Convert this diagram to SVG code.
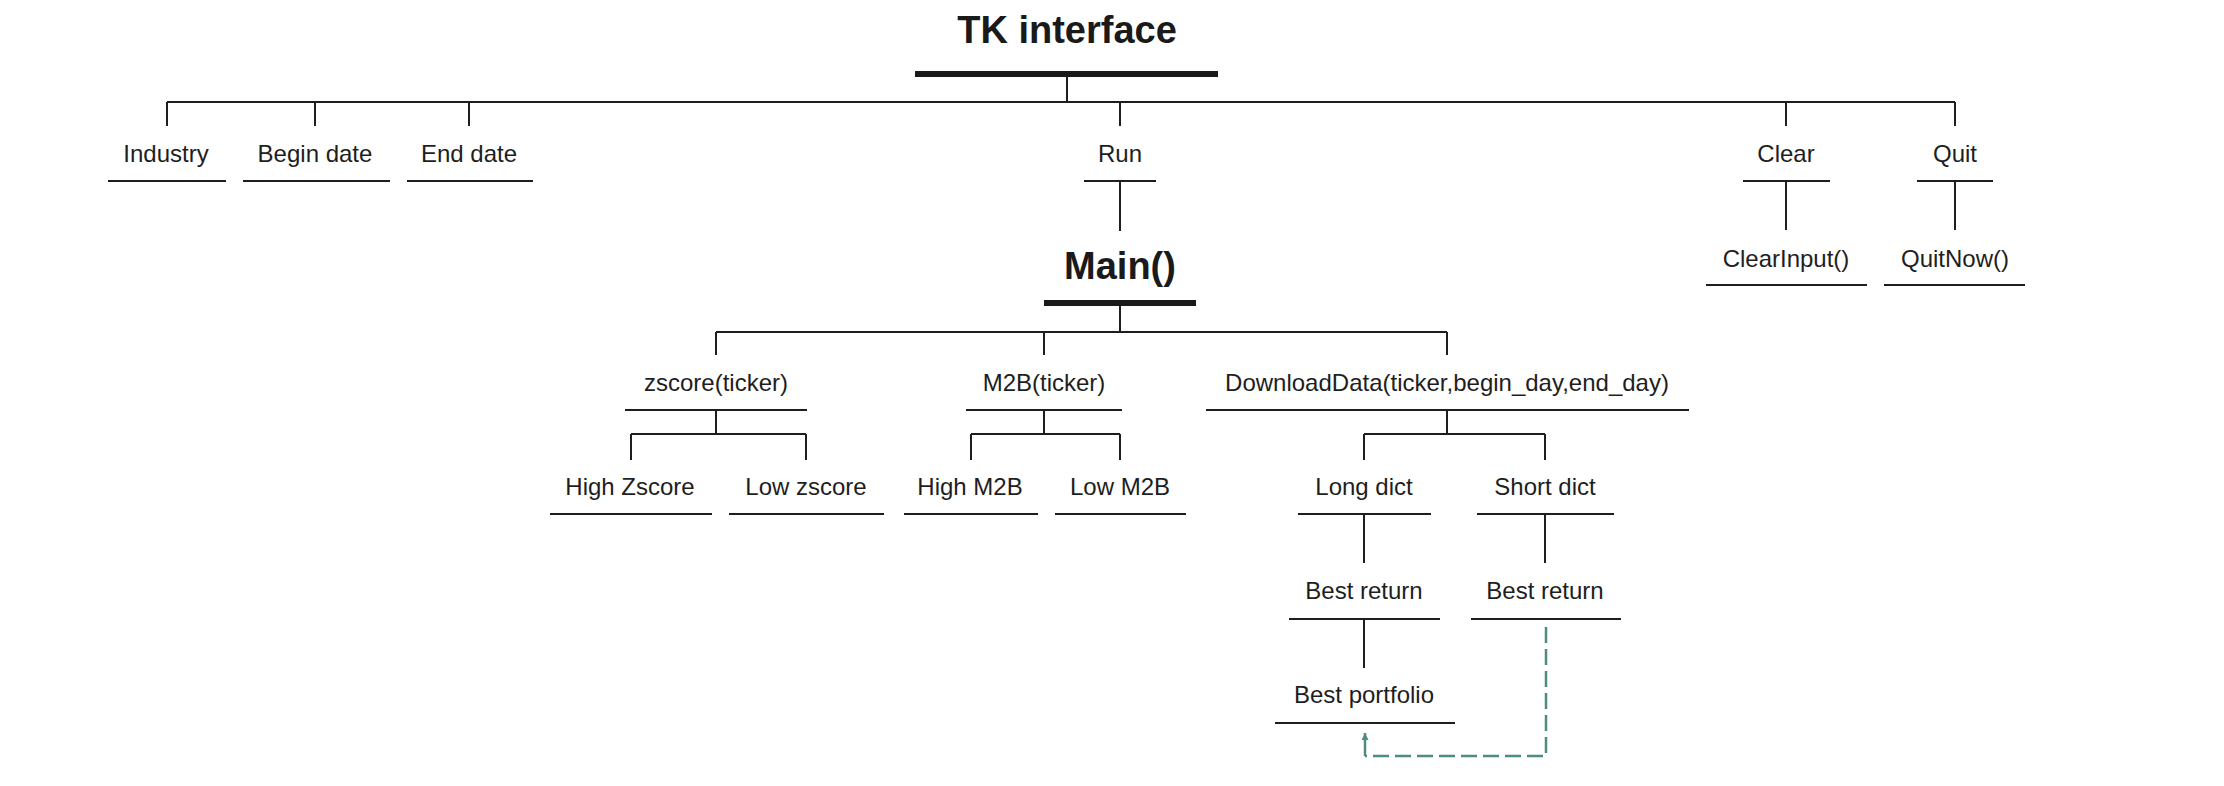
<svg xmlns="http://www.w3.org/2000/svg" width="2224" height="786" viewBox="0 0 2224 786">
<defs>
<style>
.t{font-family:"Liberation Sans",Arial,sans-serif;font-size:24px;fill:#1e1e1e;text-anchor:middle}
.h{font-family:"Liberation Sans",Arial,sans-serif;font-size:38px;font-weight:bold;fill:#1a1a1a;text-anchor:middle}
.u{stroke:#1e1e1e;stroke-width:2;fill:none}
.thick{stroke:#1a1a1a;stroke-width:6;fill:none}
.c{stroke:#1e1e1e;stroke-width:2;fill:none}
.d{stroke:#4d8c82;stroke-width:2.5;fill:none;stroke-dasharray:16 6}
.a{stroke:#4d8c82;stroke-width:2.5;fill:none}
</style>
<marker id="arr" viewBox="0 0 10 10" refX="10" refY="5" markerWidth="9" markerHeight="7" markerUnits="userSpaceOnUse" orient="auto">
<path d="M0 0 L10 5 L0 10 Z" fill="#4d8c82"/>
</marker>
</defs>
<rect width="2224" height="786" fill="#ffffff"/>

<g id="connectors">
<path class="c" d="M1067 77 V102 M167 102 H1955 M167 102 V126 M315 102 V126 M469 102 V126 M1120 102 V126 M1786 102 V126 M1955 102 V126"/>
<path class="c" d="M1120 181 V231"/>
<path class="c" d="M1786 181 V230 M1955 181 V230"/>
<path class="c" d="M1120 306 V332 M716 332 H1447 M716 332 V355 M1044 332 V355 M1447 332 V355"/>
<path class="c" d="M716 410 V434 M631 434 H806 M631 434 V460 M806 434 V460"/>
<path class="c" d="M1044 410 V434 M971 434 H1120 M971 434 V460 M1120 434 V460"/>
<path class="c" d="M1447 410 V434 M1364 434 H1545 M1364 434 V460 M1545 434 V460"/>
<path class="c" d="M1364 514 V563 M1545 514 V563"/>
<path class="c" d="M1364 619 V668"/>
<path class="d" d="M1546 627 V756 H1365"/>
<path class="a" d="M1365 756 V733" marker-end="url(#arr)"/>
</g>

<g id="tk-interface">
<text class="h" x="1067" y="43">TK interface</text>
<line class="thick" x1="915" y1="74" x2="1218" y2="74"/>
</g>
<g id="industry">
<text class="t" x="166" y="162">Industry</text>
<line class="u" x1="108" y1="181" x2="226" y2="181"/>
</g>
<g id="begin-date">
<text class="t" x="315" y="162">Begin date</text>
<line class="u" x1="243" y1="181" x2="390" y2="181"/>
</g>
<g id="end-date">
<text class="t" x="469" y="162">End date</text>
<line class="u" x1="407" y1="181" x2="533" y2="181"/>
</g>
<g id="run">
<text class="t" x="1120" y="162">Run</text>
<line class="u" x1="1084" y1="181" x2="1156" y2="181"/>
</g>
<g id="clear">
<text class="t" x="1786" y="162">Clear</text>
<line class="u" x1="1743" y1="181" x2="1830" y2="181"/>
</g>
<g id="quit">
<text class="t" x="1955" y="162">Quit</text>
<line class="u" x1="1917" y1="181" x2="1993" y2="181"/>
</g>
<g id="clearinput">
<text class="t" x="1786" y="267">ClearInput()</text>
<line class="u" x1="1706" y1="285" x2="1867" y2="285"/>
</g>
<g id="quitnow">
<text class="t" x="1955" y="267">QuitNow()</text>
<line class="u" x1="1884" y1="285" x2="2025" y2="285"/>
</g>
<g id="main">
<text class="h" x="1120" y="279">Main()</text>
<line class="thick" x1="1044" y1="303" x2="1196" y2="303"/>
</g>
<g id="zscore">
<text class="t" x="716" y="391">zscore(ticker)</text>
<line class="u" x1="625" y1="410" x2="807" y2="410"/>
</g>
<g id="m2b">
<text class="t" x="1044" y="391">M2B(ticker)</text>
<line class="u" x1="966" y1="410" x2="1122" y2="410"/>
</g>
<g id="downloaddata">
<text class="t" x="1447" y="391">DownloadData(ticker,begin_day,end_day)</text>
<line class="u" x1="1206" y1="410" x2="1689" y2="410"/>
</g>
<g id="high-zscore">
<text class="t" x="630" y="495">High Zscore</text>
<line class="u" x1="550" y1="514" x2="712" y2="514"/>
</g>
<g id="low-zscore">
<text class="t" x="806" y="495">Low zscore</text>
<line class="u" x1="729" y1="514" x2="884" y2="514"/>
</g>
<g id="high-m2b">
<text class="t" x="970" y="495">High M2B</text>
<line class="u" x1="904" y1="514" x2="1038" y2="514"/>
</g>
<g id="low-m2b">
<text class="t" x="1120" y="495">Low M2B</text>
<line class="u" x1="1055" y1="514" x2="1186" y2="514"/>
</g>
<g id="long-dict">
<text class="t" x="1364" y="495">Long dict</text>
<line class="u" x1="1298" y1="514" x2="1431" y2="514"/>
</g>
<g id="short-dict">
<text class="t" x="1545" y="495">Short dict</text>
<line class="u" x1="1477" y1="514" x2="1614" y2="514"/>
</g>
<g id="best-return-long">
<text class="t" x="1364" y="599">Best return</text>
<line class="u" x1="1289" y1="619" x2="1440" y2="619"/>
</g>
<g id="best-return-short">
<text class="t" x="1545" y="599">Best return</text>
<line class="u" x1="1471" y1="619" x2="1621" y2="619"/>
</g>
<g id="best-portfolio">
<text class="t" x="1364" y="703">Best portfolio</text>
<line class="u" x1="1275" y1="723" x2="1455" y2="723"/>
</g>
</svg>
